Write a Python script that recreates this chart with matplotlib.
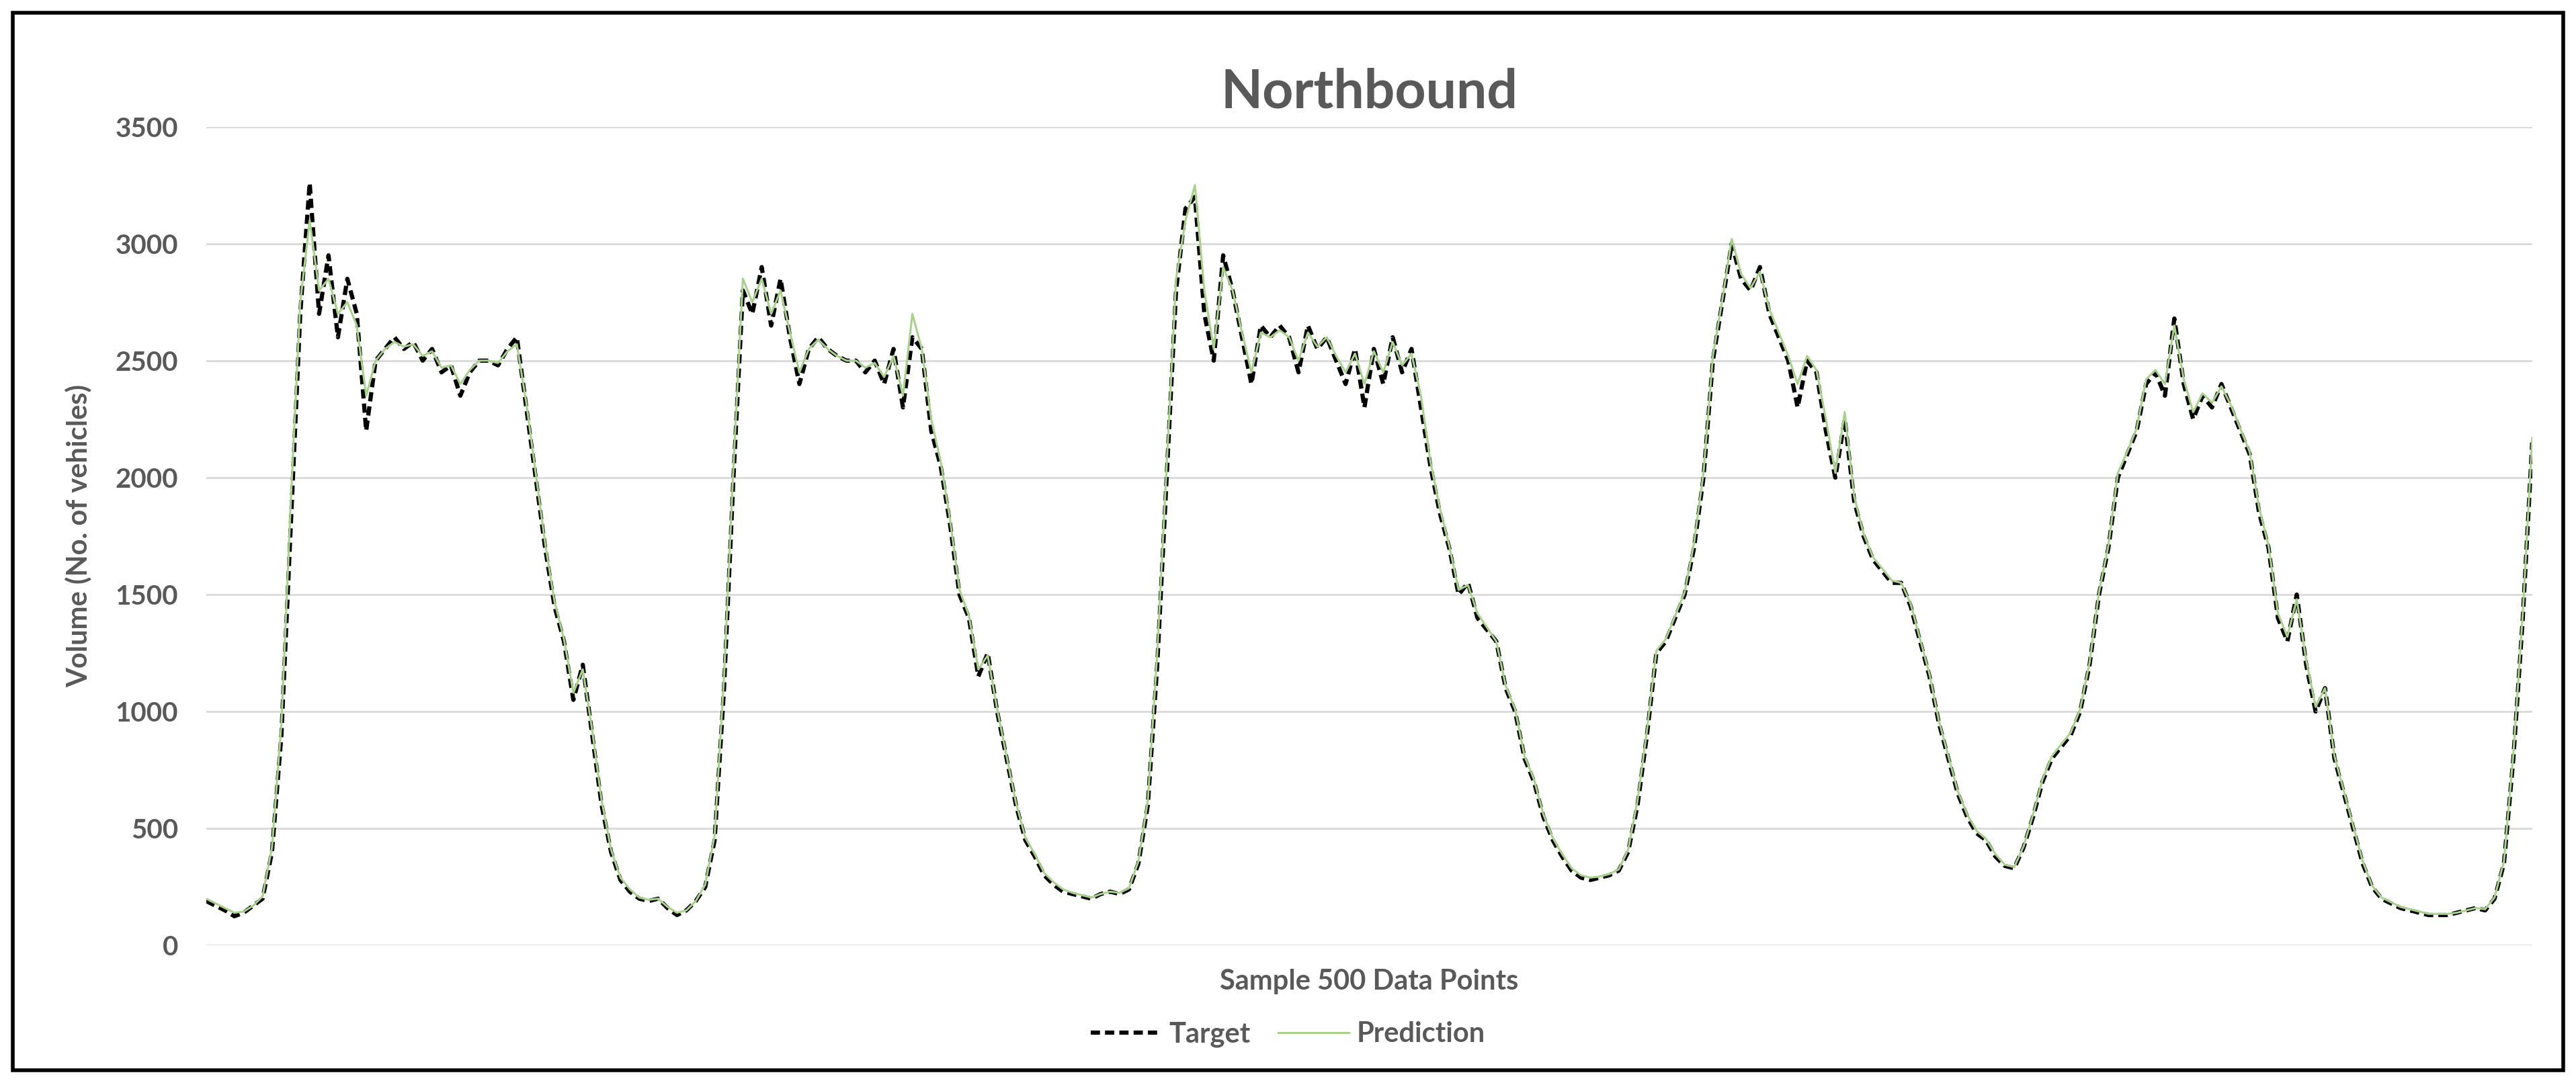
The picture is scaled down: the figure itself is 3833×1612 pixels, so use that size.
import matplotlib
matplotlib.use("Agg")
import matplotlib.pyplot as plt
from matplotlib.patches import Rectangle

title = "Northbound"
x_label = "Sample 500 Data Points"
y_label = "Volume (No. of vehicles)"
y_ticks = [0, 500, 1000, 1500, 2000, 2500, 3000, 3500]

target = [190,170,150,125,140,170,200,400,900,1800,2700,3260,
 2700,2950,2600,2850,2700,2200,2500,2550,2600,2550,2580,2500,2550,2450,2480,2350,2450,2500,2500,2480,2550,2600,
 2300,2000,1700,1450,1300,1050,1200,900,600,400,280,230,200,190,200,160,130,150,190,250,
 450,1100,2000,2800,2700,2900,2650,2850,2600,2400,2550,2600,2550,2520,2500,2500,2450,2500,2400,2550,2300,2600,2550,
 2200,2050,1800,1500,1400,1150,1250,1000,800,600,450,380,300,260,230,220,210,200,220,230,
 220,240,350,600,1200,2000,2800,3150,3200,2700,2500,2950,2800,2600,2400,2650,2600,2650,2600,2450,2650,2550,2600,
 2500,2400,2550,2300,2550,2400,2600,2450,2550,2300,2050,1850,1700,1500,1550,1400,1350,1300,1100,1000,800,700,
 550,450,380,320,290,280,290,300,320,400,600,900,1250,1300,1400,1500,1700,2000,2500,2750,3000,2850,2800,2900,
 2700,2600,2500,2300,2500,2450,2200,2000,2250,1900,1750,1650,1600,1550,1550,1450,1300,1150,950,800,650,550,480,
 450,380,340,330,420,550,700,800,850,900,1000,1200,1500,1700,2000,2100,2200,2400,2450,2350,2680,2400,2250,2350,
 2300,2400,2300,2200,2100,1850,1700,1400,1300,1500,1200,1000,1100,800,650,500,350,250,200,180,160,150,140,130,
 130,130,140,150,160,150,200,350,800,1400,2150]

prediction = [200,180,160,140,145,170,210,420,950,1900,2750,3100,
 2800,2850,2700,2750,2650,2350,2500,2550,2580,2560,2570,2520,2540,2470,2480,2400,2460,2500,2500,2490,2540,2570,
 2320,2020,1720,1470,1310,1080,1180,920,620,410,290,240,205,195,200,165,140,150,190,260,
 470,1150,2050,2850,2750,2850,2700,2800,2620,2450,2550,2590,2550,2520,2500,2500,2470,2490,2430,2520,2350,2700,2550,
 2250,2070,1820,1520,1410,1180,1240,1010,810,610,460,390,310,270,240,225,215,205,220,230,
 225,245,360,620,1250,2050,2850,3100,3250,2800,2550,2900,2800,2620,2450,2620,2600,2630,2600,2500,2620,2560,2600,
 2520,2450,2530,2400,2540,2450,2580,2480,2530,2350,2070,1870,1710,1520,1540,1420,1360,1300,1110,1010,810,710,
 560,460,390,330,300,290,295,305,325,410,620,920,1260,1310,1410,1510,1720,2020,2520,2760,3020,2870,2810,2880,
 2720,2620,2520,2400,2520,2460,2250,2020,2280,1920,1760,1660,1610,1560,1550,1460,1310,1160,960,810,660,560,490,
 455,390,345,335,425,560,710,810,860,910,1010,1210,1510,1710,2020,2110,2210,2420,2460,2400,2650,2420,2280,2360,
 2320,2390,2310,2210,2110,1870,1710,1420,1320,1480,1220,1020,1100,810,660,510,360,255,205,185,165,155,145,135,
 135,135,140,150,160,155,205,360,820,1420,2170]

gray = "#595959"
fig = plt.figure(figsize=(38.33, 16.12), dpi=100)
fig.patches.append(Rectangle((0.005, 0.012), 0.99, 0.976, transform=fig.transFigure,
                             fill=False, edgecolor="black", linewidth=4))
ax = fig.add_axes([0.08, 0.127, 0.903, 0.756])
xs = list(range(len(target)))
ax.plot(xs, target, color="black", linestyle=(0, (2.2, 1.2)), linewidth=4.5, label="Target")
ax.plot(xs, prediction, color="#a9d18e", linewidth=2.2, label="Prediction")
ax.set_xlim(0, len(target) - 1)
ax.set_ylim(0, 3500)
ax.set_yticks(y_ticks)
ax.set_xticks([])
for s in ax.spines.values():
    s.set_visible(False)
ax.grid(axis="y", color="#d9d9d9", linewidth=2)
ax.set_axisbelow(True)
ax.tick_params(axis="y", length=0, labelsize=29, labelcolor=gray, pad=30)
for t in ax.get_yticklabels():
    t.set_fontweight("bold")
    t.set_family("Lato")
ax.set_title(title, fontsize=58, fontweight="bold", color=gray, family="Lato", pad=20)
ax.set_xlabel(x_label, fontsize=30, fontweight="bold", color=gray, family="Lato", labelpad=25)
ax.set_ylabel(y_label, fontsize=30, fontweight="bold", color=gray, family="Lato", labelpad=25)
leg = fig.legend(loc="center", bbox_to_anchor=(0.5, 0.045), ncol=2, frameon=False,
                 prop={"family": "Lato", "weight": "bold", "size": 30}, handlelength=2.5,
                 columnspacing=1.0, handletextpad=0.3)
for t in leg.get_texts():
    t.set_color(gray)
fig.savefig("out.png", dpi=100)
